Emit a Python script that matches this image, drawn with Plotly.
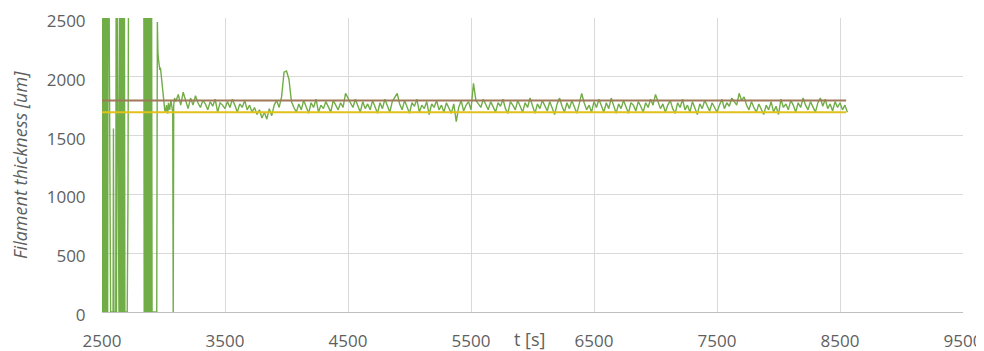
import plotly.graph_objects as go

# ---- data ----
# erratic start-up phase (time [s], thickness [um]); values > 2500 are off-scale
t_start = [2500, 2503, 2506, 2510, 2514, 2518, 2522, 2526, 2530, 2534, 2538, 2542, 2546, 2549,
           2556, 2565, 2570, 2590, 2593, 2597, 2612, 2615, 2618, 2621,
           2638, 2642, 2646, 2650, 2654, 2658, 2662, 2666, 2670, 2674, 2678, 2682, 2686,
           2705, 2711, 2716, 2840,
           2843, 2847, 2851, 2855, 2859, 2863, 2867, 2871, 2875, 2879, 2883, 2887, 2891, 2895, 2899, 2903, 2907,
           2945, 2950, 2955, 2960, 2965, 2970, 2975, 2980, 2985, 2990, 2995, 3000, 3005, 3010, 3015,
           3020, 3025, 3030, 3035, 3040, 3050, 3060, 3070, 3075, 3079, 3083, 3090]
v_start = [0, 3000, 0, 3000, 0, 3000, 0, 3000, 0, 3000, 0, 3000, 0, 3000,
           3000, 670, 0, 0, 1560, 0, 0, 3000, 0, 3000,
           0, 3000, 0, 3000, 0, 3000, 0, 3000, 0, 3000, 0, 3000, 0,
           0, 950, 3000, 3000,
           0, 3000, 0, 3000, 0, 3000, 0, 3000, 0, 3000, 0, 3000, 0, 3000, 0, 3000, 0,
           0, 2466, 2200, 2140, 2100, 2060, 2080, 2020, 1990, 1960, 1900, 1800, 1760, 1720, 1700,
           1730, 1760, 1700, 1690, 1780, 1720, 1800, 1750, 1700, 0, 1760, 1820]

# steady extrusion phase, sampled every 20 s from 3100 s to 8560 s
t_steady = list(range(3100, 8561, 20))
v_steady = [
    1790, 1850, 1760, 1870, 1800, 1730, 1820, 1760, 1840, 1780,
    1740, 1800, 1770, 1720, 1790, 1750, 1810, 1700, 1780, 1760,
    1730, 1790, 1740, 1810, 1760, 1700, 1770, 1740, 1800, 1720,
    1760, 1700, 1740, 1680, 1720, 1650, 1700, 1640, 1730, 1670,
    1760, 1800, 1740, 1830, 2040, 2050, 1980, 1790, 1740, 1700,
    1770, 1720, 1800, 1750, 1690, 1780, 1740, 1810, 1700, 1760,
    1730, 1790, 1750, 1700, 1800, 1760, 1720, 1780, 1740, 1860,
    1820, 1780, 1740, 1810, 1760, 1700, 1790, 1730, 1770, 1720,
    1800, 1750, 1690, 1780, 1730, 1810, 1760, 1700, 1790, 1820,
    1860, 1770, 1720, 1800, 1740, 1690, 1780, 1750, 1810, 1700,
    1760, 1730, 1790, 1680, 1770, 1740, 1800, 1720, 1760, 1700,
    1780, 1730, 1690, 1770, 1620, 1740, 1800, 1710, 1760, 1790,
    1720, 1945, 1800, 1770, 1740, 1810, 1760, 1720, 1790, 1740,
    1700, 1780, 1750, 1810, 1730, 1690, 1790, 1760, 1720, 1800,
    1750, 1700, 1780, 1740, 1820, 1760, 1690, 1770, 1730, 1800,
    1760, 1710, 1790, 1740, 1680, 1770, 1820, 1750, 1700, 1780,
    1730, 1800, 1750, 1690, 1770, 1860, 1780, 1720, 1760, 1700,
    1790, 1740, 1810, 1760, 1700, 1780, 1730, 1820, 1750, 1690,
    1770, 1730, 1800, 1740, 1690, 1780, 1760, 1710, 1790, 1750,
    1700, 1780, 1740, 1810, 1760, 1850, 1790, 1730, 1770, 1700,
    1760, 1800, 1730, 1690, 1780, 1740, 1810, 1720, 1760, 1700,
    1790, 1740, 1680, 1770, 1730, 1800, 1750, 1710, 1780, 1740,
    1700, 1760, 1810, 1730, 1780, 1750, 1820, 1790, 1760, 1860,
    1800, 1830, 1760, 1720, 1790, 1740, 1700, 1770, 1730, 1680,
    1760, 1720, 1790, 1700, 1750, 1680, 1810, 1740, 1770, 1720,
    1800, 1760, 1700, 1780, 1740, 1820, 1760, 1720, 1790, 1750,
    1700, 1780, 1820, 1750, 1810, 1730, 1770, 1710, 1790, 1740,
    1780, 1720, 1760, 1700,
]

t_all = t_start + t_steady
v_all = v_start + v_steady

# tolerance limits
limit_t = [2500, 8550]
upper_limit = [1800, 1800]
lower_limit = [1700, 1700]

x_ticks = [2500, 3500, 4500, 5500, 6500, 7500, 8500, 9500]
y_ticks = [0, 500, 1000, 1500, 2000, 2500]

FONT = "Open Sans"
GRAY = "#5f5f5f"

fig = go.Figure()
fig.add_trace(go.Scatter(x=t_all, y=v_all, mode="lines",
                         line=dict(color="#70AD47", width=1.4), showlegend=False))
fig.add_trace(go.Scatter(x=limit_t, y=upper_limit, mode="lines",
                         line=dict(color="#A0785A", width=2), showlegend=False))
fig.add_trace(go.Scatter(x=limit_t, y=lower_limit, mode="lines",
                         line=dict(color="#E2C21A", width=2), showlegend=False))

# the page body adds an 8 px offset, so the figure is 8 px smaller than the window
fig.update_layout(
    width=976, height=343,
    margin=dict(l=94, r=21, t=10, b=39, autoexpand=False),
    paper_bgcolor="white", plot_bgcolor="white",
    font=dict(family=FONT, size=17, color=GRAY),
    xaxis=dict(range=[2500, 9500], tickvals=x_ticks, ticktext=[str(v) for v in x_ticks],
               automargin=False, ticklabeloverflow="allow",
               showgrid=True, gridcolor="#D9D9D9", gridwidth=1,
               showline=True, linecolor="#BFBFBF", linewidth=1,
               zeroline=False, ticks="outside", ticklen=14, tickcolor="rgba(0,0,0,0)",
               tickfont=dict(family=FONT, size=17, color=GRAY)),
    yaxis=dict(range=[0, 2501], tickvals=y_ticks, ticktext=[str(v) for v in y_ticks],
               automargin=False, ticklabeloverflow="allow", ticklabelshift=3,
               showgrid=True, gridcolor="#D9D9D9", gridwidth=1,
               showline=False, zeroline=False,
               ticks="outside", ticklen=12, tickcolor="rgba(0,0,0,0)",
               tickfont=dict(family=FONT, size=17, color=GRAY)),
    annotations=[
        dict(text="<i>Filament thickness [um]</i>", xref="paper", yref="paper",
             x=0, y=0.5, xshift=-82, xanchor="center", yanchor="middle",
             textangle=-90, showarrow=False,
             font=dict(family=FONT, size=18, color=GRAY)),
        dict(text="t [s]", xref="paper", yref="paper",
             x=0.497, y=0, yshift=-27, xanchor="center", yanchor="middle",
             showarrow=False, font=dict(family=FONT, size=18, color=GRAY)),
    ],
)

fig.write_html("out.html")
